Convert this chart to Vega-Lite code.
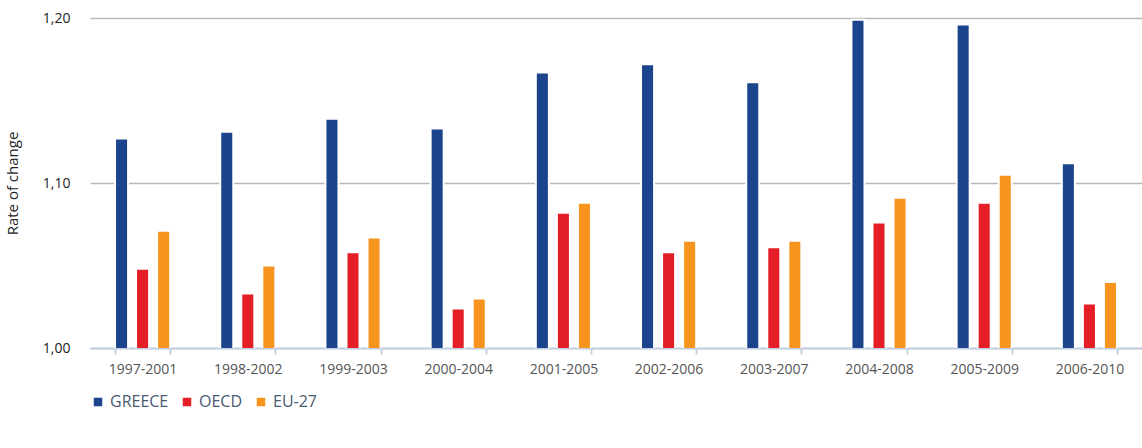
{
  "$schema": "https://vega.github.io/schema/vega-lite/v6.json",
  "width": 1052,
  "height": 330,
  "autosize": {"type": "none"},
  "padding": {"left": 90, "top": 18, "right": 0, "bottom": 100},
  "background": "white",
  "config": {
    "font": "Open Sans",
    "view": {"stroke": null}
  },
  "data": {
    "values": [
      {"period": "1997-2001", "region": "GREECE", "value": 1.127},
      {"period": "1997-2001", "region": "OECD", "value": 1.048},
      {"period": "1997-2001", "region": "EU-27", "value": 1.071},
      {"period": "1998-2002", "region": "GREECE", "value": 1.131},
      {"period": "1998-2002", "region": "OECD", "value": 1.033},
      {"period": "1998-2002", "region": "EU-27", "value": 1.050},
      {"period": "1999-2003", "region": "GREECE", "value": 1.139},
      {"period": "1999-2003", "region": "OECD", "value": 1.058},
      {"period": "1999-2003", "region": "EU-27", "value": 1.067},
      {"period": "2000-2004", "region": "GREECE", "value": 1.133},
      {"period": "2000-2004", "region": "OECD", "value": 1.024},
      {"period": "2000-2004", "region": "EU-27", "value": 1.030},
      {"period": "2001-2005", "region": "GREECE", "value": 1.167},
      {"period": "2001-2005", "region": "OECD", "value": 1.082},
      {"period": "2001-2005", "region": "EU-27", "value": 1.088},
      {"period": "2002-2006", "region": "GREECE", "value": 1.172},
      {"period": "2002-2006", "region": "OECD", "value": 1.058},
      {"period": "2002-2006", "region": "EU-27", "value": 1.065},
      {"period": "2003-2007", "region": "GREECE", "value": 1.161},
      {"period": "2003-2007", "region": "OECD", "value": 1.061},
      {"period": "2003-2007", "region": "EU-27", "value": 1.065},
      {"period": "2004-2008", "region": "GREECE", "value": 1.199},
      {"period": "2004-2008", "region": "OECD", "value": 1.076},
      {"period": "2004-2008", "region": "EU-27", "value": 1.091},
      {"period": "2005-2009", "region": "GREECE", "value": 1.196},
      {"period": "2005-2009", "region": "OECD", "value": 1.088},
      {"period": "2005-2009", "region": "EU-27", "value": 1.105},
      {"period": "2006-2010", "region": "GREECE", "value": 1.112},
      {"period": "2006-2010", "region": "OECD", "value": 1.027},
      {"period": "2006-2010", "region": "EU-27", "value": 1.040}
    ]
  },
  "mark": {"type": "bar", "clip": true, "stroke": "white", "strokeWidth": 2},
  "encoding": {
    "x": {
      "field": "period",
      "type": "nominal",
      "sort": null,
      "scale": {"paddingInner": 0.476, "paddingOuter": 0.238},
      "axis": {
        "title": null,
        "labelAngle": 0,
        "labelFontSize": 14,
        "labelColor": "#555555",
        "labelPadding": 8,
        "tickBand": "extent",
        "tickColor": "#c3d1e0",
        "tickWidth": 2,
        "tickSize": 6,
        "domainColor": "#c3d1e0",
        "domainWidth": 2,
        "grid": false
      }
    },
    "xOffset": {
      "field": "region",
      "type": "nominal",
      "sort": ["GREECE", "OECD", "EU-27"],
      "scale": {"paddingInner": 0.38, "paddingOuter": 0}
    },
    "y": {
      "field": "value",
      "type": "quantitative",
      "scale": {"domain": [1.0, 1.2], "zero": false, "nice": false},
      "axis": {
        "title": "Rate of change",
        "titleFontSize": 15,
        "titleFontWeight": "normal",
        "titleColor": "#222222",
        "titlePadding": 22,
        "values": [1.0, 1.1, 1.2],
        "labelExpr": "replace(format(datum.value, '.2f'), '.', ',')",
        "labelFontSize": 14,
        "labelColor": "#222222",
        "labelPadding": 20,
        "ticks": false,
        "domain": false,
        "grid": true,
        "gridColor": "#b8b8b8",
        "gridWidth": 1.5
      }
    },
    "color": {
      "field": "region",
      "type": "nominal",
      "sort": ["GREECE", "OECD", "EU-27"],
      "scale": {"domain": ["GREECE", "OECD", "EU-27"], "range": ["#1b448c", "#e31e26", "#f7941d"]},
      "legend": {
        "title": null,
        "orient": "bottom",
        "direction": "horizontal",
        "labelFontSize": 16,
        "labelColor": "#4a5a72"
      }
    }
  }
}
